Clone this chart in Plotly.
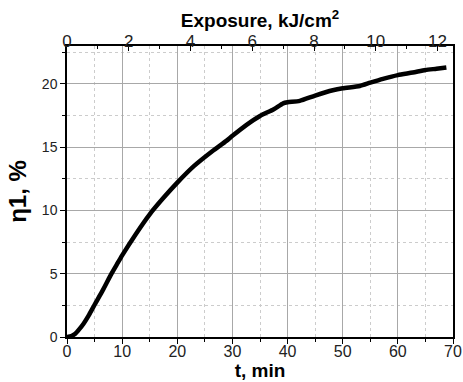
import plotly.graph_objects as go

t_min = [0, 0.8, 1.5, 2.2, 3.0, 4.0, 5.0, 6.5, 7.9, 9.0, 10.0, 12.5, 15.0, 17.5, 20.0, 23.0, 26.4,
         28.9, 30.0, 32.5, 35.0, 37.5, 39.2, 40.0, 42.2, 45.0, 48.2, 50.0, 53.1, 55.0, 57.3,
         60.0, 62.7, 65.0, 67.0, 68.8]
eta1 = [0, 0.08, 0.26, 0.6, 1.05, 1.75, 2.55, 3.7, 4.87, 5.7, 6.45, 8.15, 9.7, 11.0, 12.2, 13.5, 14.7,
        15.5, 15.9, 16.75, 17.47, 18.0, 18.47, 18.55, 18.66, 19.08, 19.5, 19.66, 19.84, 20.1, 20.4,
        20.7, 20.9, 21.1, 21.2, 21.3]

x_range = [0, 70]
x2_range = [0, 12.5]
y_range = [0, 23]

FONT = "Liberation Sans, Arial, sans-serif"
MAJOR_GRID = "#a8a8a8"
MINOR_GRID = "#cccccc"

fig = go.Figure()
fig.add_trace(go.Scatter(x=t_min, y=eta1, mode="lines",
                         line=dict(color="black", width=4.5, shape="spline", smoothing=0.6),
                         showlegend=False, hoverinfo="skip"))
fig.add_trace(go.Scatter(x=x2_range, y=[None, None], xaxis="x2", mode="lines",
                         showlegend=False, hoverinfo="skip"))

fig.update_layout(
    width=463, height=382,
    margin=dict(l=67, r=10, t=46, b=45, autoexpand=False),
    paper_bgcolor="white", plot_bgcolor="white",
    font=dict(family=FONT, size=13, color="#222"),
    xaxis=dict(
        range=x_range, dtick=10, tick0=0, automargin=False,
        showline=True, linecolor="black", linewidth=1.5,
        ticks="outside", ticklen=5, tickcolor="black",
        showgrid=True, gridcolor=MAJOR_GRID, gridwidth=1,
        zeroline=False, ticklabelstandoff=-6,
        minor=dict(dtick=5, ticks="outside", ticklen=3, tickcolor="black",
                   showgrid=True, gridcolor=MINOR_GRID, griddash="dot", gridwidth=1),
        title=dict(text="<b>t, min</b>", font=dict(size=19, color="black"), standoff=0),
        tickfont=dict(size=16, color="#222"),
    ),
    xaxis2=dict(
        range=x2_range, dtick=2, tick0=0, overlaying="x", side="top", automargin=False,
        showline=True, linecolor="black", linewidth=1.5,
        ticks="inside", ticklen=5, tickcolor="black",
        showgrid=False, zeroline=False, ticklabelstandoff=-10,
        minor=dict(dtick=1, ticks="inside", ticklen=3, tickcolor="black", showgrid=False),
        title=dict(text="<b>Exposure, kJ/cm<sup>2</sup></b>", font=dict(size=19, color="black"), standoff=0),
        tickfont=dict(size=17, color="#222"),
    ),
    yaxis=dict(
        range=y_range, dtick=5, tick0=0, automargin=False,
        showline=True, linecolor="black", linewidth=1.5, mirror=True,
        ticks="outside", ticklen=5, tickcolor="black",
        showgrid=True, gridcolor=MAJOR_GRID, gridwidth=1,
        zeroline=False,
        minor=dict(dtick=2.5, ticks="outside", ticklen=3, tickcolor="black",
                   showgrid=True, gridcolor=MINOR_GRID, griddash="dot", gridwidth=1),
        title=dict(text="<b>η1, %</b>", font=dict(size=24, color="black"), standoff=8),
        tickfont=dict(size=14, color="#222"),
    ),
)

fig.write_html("out.html")
